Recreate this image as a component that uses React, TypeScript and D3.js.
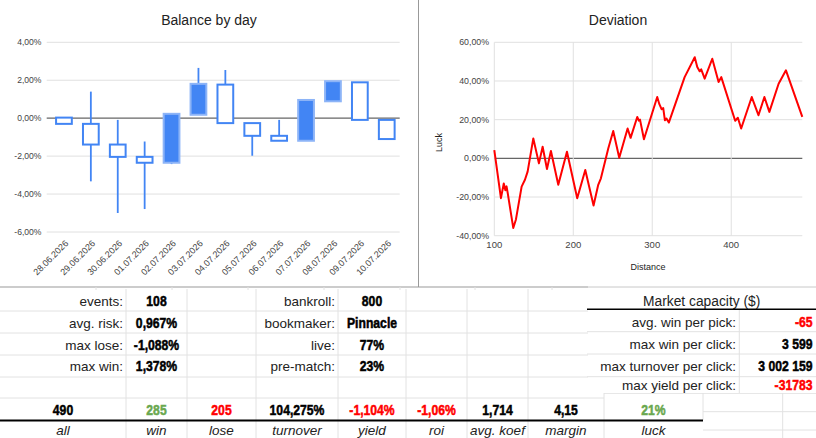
import React from 'react';
import * as d3 from 'd3';

// daily balance candles, in percent of bankroll
const days = [
  '28.06.2026', '29.06.2026', '30.06.2026', '01.07.2026', '02.07.2026', '03.07.2026', '04.07.2026',
  '05.07.2026', '06.07.2026', '07.07.2026', '08.07.2026', '09.07.2026', '10.07.2026',
];
const dayOpen = [0.03, -0.3, -1.39, -2.04, -2.35, 0.18, 1.77, -0.26, -0.93, -1.19, 0.89, 1.89, -0.09];
const dayClose = [-0.3, -1.39, -2.04, -2.35, 0.23, 1.81, -0.26, -0.93, -1.19, 0.96, 1.95, -0.09, -1.1];
const dayHigh = [0.03, 1.4, -0.09, -1.23, 0.23, 2.65, 2.54, -0.26, -0.09, 0.96, 1.95, 1.89, -0.09];
const dayLow = [-0.3, -3.33, -5.0, -4.79, -2.42, 0.18, -0.26, -1.98, -1.19, -1.19, 0.89, -0.09, -1.1];
const balanceTicks = [-6, -4, -2, 0, 2, 4];

// luck deviation along the betting distance
const distance = [
  100, 108.4, 112, 114, 115.5, 117, 124, 127.4, 134.6, 138.8, 142.2, 149.4, 156.5, 161.2, 166.7, 171.7,
  181, 192, 205, 215.2, 225.7, 231.6, 235, 244.3, 250.6, 258.2, 268.8, 272.6, 281, 283, 284.5, 289.5,
  306.3, 309, 311.8, 313.9, 316, 318, 321, 341, 353.8, 357, 360, 362, 366.4, 376, 384, 387.4, 405,
  408.4, 412.6, 426, 434.5, 442, 448.3, 460, 469.3, 490,
];
const luck = [
  4.3, -20.6, -13, -16.5, -14.5, -18, -36, -31.6, -14.6, -11.1, -6.9, 10.3, -2.6, 6, -5.5, 3.8,
  -13.7, 3.4, -20.6, -6, -24.4, -13.7, -10.3, 5.1, 14.1, 0.3, 15.4, 10.6, 21.4, 19.5, 20, 9.9,
  31.7, 28, 25.4, 26, 19.7, 20.6, 18.5, 42, 52.3, 47.2, 45, 46, 41.2, 51.5, 39.5, 42, 19.4,
  21, 15.4, 31.7, 22.3, 31.7, 24, 38.6, 45.5, 21.4,
];
const luckTicks = [-40, -20, 0, 20, 40, 60];
const distanceTicks = [100, 200, 300, 400];

// summary table
const statLabels = ['events:', 'avg. risk:', 'max lose:', 'max win:'];
const statValues = ['108', '0,967%', '-1,088%', '1,378%'];
const setupLabels = ['bankroll:', 'bookmaker:', 'live:', 'pre-match:'];
const setupValues = ['800', 'Pinnacle', '77%', '23%'];
const totalLabels = ['all', 'win', 'lose', 'turnover', 'yield', 'roi', 'avg. koef', 'margin', 'luck'];
const totalValues = ['490', '285', '205', '104,275%', '-1,104%', '-1,06%', '1,714', '4,15', '21%'];
const capacityLabels = ['avg. win per pick:', 'max win per click:', 'max turnover per click:', 'max yield per click:'];
const capacityValues = ['-65', '3 599', '3 002 159', '-31783'];

const GREEN = '#6aa84f';
const RED = '#ff0000';
const BLUE = '#4285f4';
const GRID = '#e0e0e0';
const CELL = '#e2e2e2';
const SANS = '"Liberation Sans", Arial, sans-serif';

const pct = (v: number) => d3.format('.2f')(v).replace('.', ',').replace('−', '-') + '%';
const valueColor = (s: string) => (s.startsWith('-') ? RED : '#000');

// heavy condensed figures, squeezed horizontally
const Figure = ({ x, y, anchor, color, children }: { x: number; y: number; anchor: string; color: string; children: string }) => (
  <text
    transform={`translate(${x},${y}) scale(0.84,1)`}
    textAnchor={anchor}
    fontWeight="bold"
    fontSize={14.5}
    fill={color}
    stroke={color}
    strokeWidth={0.5}
  >
    {children}
  </text>
);

const BalanceChart = () => {
  const x = d3.scaleBand<string>().domain(days).range([50.5, 400.2]).paddingInner(0.34).paddingOuter(0.17);
  const y = d3.scaleLinear().domain([-6, 4]).range([232, 42.3]);
  const bw = x.bandwidth();
  return (
    <g>
      <text x={209} y={25} textAnchor="middle" fontSize={14} fill="#222">Balance by day</text>
      {balanceTicks.map((t) => (
        <g key={t}>
          <line x1={46.7} x2={399.7} y1={y(t)} y2={y(t)} stroke={t === 0 ? '#666' : GRID} strokeWidth={t === 0 ? 1.2 : 1} />
          <text x={41.5} y={y(t)} dy="0.35em" textAnchor="end" fontSize={8.6} fill="#444">{pct(t)}</text>
        </g>
      ))}
      {days.map((d, i) => {
        const cx = (x(d) as number) + bw / 2;
        const rising = dayClose[i] > dayOpen[i];
        const top = y(Math.max(dayOpen[i], dayClose[i]));
        const bottom = y(Math.min(dayOpen[i], dayClose[i]));
        return (
          <g key={d}>
            <line x1={cx} x2={cx} y1={y(dayHigh[i])} y2={y(dayLow[i])} stroke={BLUE} strokeWidth={1.8} />
            <rect
              x={cx - bw / 2 + 1}
              y={top}
              width={bw - 2}
              height={Math.max(bottom - top, 1)}
              fill={rising ? BLUE : '#fff'}
              stroke={rising ? '#8db4f7' : BLUE}
              strokeWidth={2}
            />
            <text
              transform={`translate(${cx + 5},${244}) rotate(-45)`}
              textAnchor="end"
              fontSize={9}
              fill="#444"
            >
              {d}
            </text>
          </g>
        );
      })}
    </g>
  );
};

const DeviationChart = () => {
  const x = d3.scaleLinear().domain([100, 490]).range([494.3, 802.3]);
  const y = d3.scaleLinear().domain([-40, 60]).range([235.7, 42.3]);
  const line = d3.line<number>().x((_, i) => x(distance[i])).y((v) => y(v));
  return (
    <g>
      <text x={618} y={25} textAnchor="middle" fontSize={14} fill="#222">Deviation</text>
      {luckTicks.map((t) => (
        <g key={t}>
          <line x1={x(100)} x2={x(490)} y1={y(t)} y2={y(t)} stroke={t === 0 ? '#666' : GRID} strokeWidth={t === 0 ? 1.2 : 1} />
          <text x={489} y={y(t)} dy="0.35em" textAnchor="end" fontSize={8.8} fill="#444">{pct(t)}</text>
        </g>
      ))}
      {distanceTicks.map((t) => (
        <g key={t}>
          <line x1={x(t)} x2={x(t)} y1={y(60)} y2={y(-40)} stroke={GRID} />
          <text x={x(t)} y={248} textAnchor="middle" fontSize={9.5} fill="#444">{t}</text>
        </g>
      ))}
      <text transform="translate(441.5,142.5) rotate(-90)" textAnchor="middle" fontSize={9} fill="#222">Luck</text>
      <text x={648} y={270} textAnchor="middle" fontSize={9} fill="#222">Distance</text>
      <path d={line(luck) ?? ''} fill="none" stroke={RED} strokeWidth={2} strokeLinejoin="round" />
    </g>
  );
};

const SummaryTable = () => {
  const rowLines = [311, 333, 355, 377, 398];
  const rowBase = [306, 328, 350, 371];
  const colLines = [126, 187, 256, 338, 406, 467, 528];
  const totalEdges = [0, 126, 187, 256, 338, 406, 467, 528, 604, 703];
  const totalColors = ['#000', GREEN, RED, '#000', RED, RED, '#000', '#000', GREEN];
  const capLines = [331.7, 354, 376.7];
  const capBase = [326.5, 349, 371, 389.5];
  return (
    <g>
      {/* spreadsheet grid */}
      {rowLines.map((r) => (
        <line key={r} x1={0} x2={r === 398 ? 604 : 588} y1={r} y2={r} stroke={CELL} />
      ))}
      {colLines.map((c) => (
        <line key={c} x1={c} x2={c} y1={289} y2={438} stroke={CELL} />
      ))}
      {[96, 172, 248, 324, 400, 475, 552].map((c) => (
        <line key={c} x1={c} x2={c} y1={287} y2={290} stroke={CELL} />
      ))}
      <line x1={604} x2={604} y1={393} y2={438} stroke={CELL} />
      <line x1={703} x2={703} y1={393} y2={420} stroke={CELL} />
      <line x1={782.7} x2={782.7} y1={393} y2={438} stroke={CELL} />
      {[393.3, 411.7, 430].map((r) => (
        <line key={r} x1={r === 393.3 ? 604 : 703} x2={816} y1={r} y2={r} stroke={CELL} />
      ))}
      <line x1={0} x2={703} y1={420.5} y2={420.5} stroke="#000" strokeWidth={2} />

      {statLabels.map((l, i) => (
        <g key={l}>
          <text x={123} y={rowBase[i]} textAnchor="end" fontSize={13.5} fill="#222">{l}</text>
          <Figure x={156.5} y={rowBase[i]} anchor="middle" color="#000">{statValues[i]}</Figure>
          <text x={335} y={rowBase[i]} textAnchor="end" fontSize={13.5} fill="#222">{setupLabels[i]}</text>
          <Figure x={372} y={rowBase[i]} anchor="middle" color="#000">{setupValues[i]}</Figure>
        </g>
      ))}

      {totalLabels.map((l, i) => {
        const cx = (totalEdges[i] + totalEdges[i + 1]) / 2;
        return (
          <g key={l}>
            <Figure x={cx} y={415} anchor="middle" color={totalColors[i]}>{totalValues[i]}</Figure>
            <text x={cx} y={435} textAnchor="middle" fontStyle="italic" fontSize={13.5} fill="#222">{l}</text>
          </g>
        );
      })}

      {/* market capacity block */}
      <rect x={588} y={288} width={228} height={105} fill="#fff" />
      <text x={701.7} y={305.5} textAnchor="middle" fontSize={13.8} fill="#222">Market capacity ($)</text>
      <line x1={587} x2={816} y1={309.3} y2={309.3} stroke="#000" strokeWidth={1.5} />
      {capLines.map((r) => (
        <line key={r} x1={587} x2={816} y1={r} y2={r} stroke={CELL} />
      ))}
      <line x1={739.3} x2={739.3} y1={310} y2={393} stroke={CELL} />
      {capacityLabels.map((l, i) => (
        <g key={l}>
          <text x={736} y={capBase[i]} textAnchor="end" fontSize={13.5} fill="#222">{l}</text>
          <Figure x={812.5} y={capBase[i]} anchor="end" color={valueColor(capacityValues[i])}>{capacityValues[i]}</Figure>
        </g>
      ))}
    </g>
  );
};

export default function App() {
  return (
    <svg
      width={816}
      height={438}
      style={{ position: 'absolute', left: 0, top: 0, background: '#fff' }}
      fontFamily={SANS}
    >
      <rect width={816} height={438} fill="#fff" />
      <BalanceChart />
      <DeviationChart />
      <line x1={418.5} x2={418.5} y1={0} y2={287} stroke="#999" />
      <line x1={0} x2={588} y1={287} y2={287} stroke="#999" />
      <line x1={588} x2={816} y1={287} y2={287} stroke="#c8c8c8" />
      <SummaryTable />
    </svg>
  );
}
